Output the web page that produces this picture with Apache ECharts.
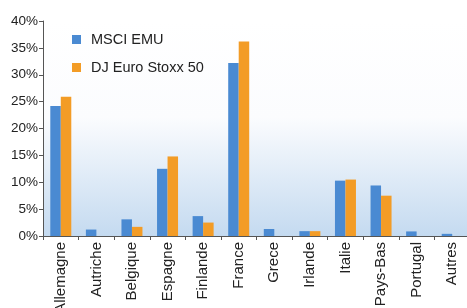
<!DOCTYPE html>
<html>
<head>
<meta charset="utf-8">
<script src="https://cdn.jsdelivr.net/npm/echarts@6/dist/echarts.min.js"></script>
<style>
  html, body { margin: 0; padding: 0; background: #fff; }
  #chart { width: 467px; height: 308px; }
</style>
</head>
<body>
<div id="chart"></div>
<script>
// pays
const categories = ['Allemagne', 'Autriche', 'Belgique', 'Espagne', 'Finlande', 'France', 'Grece', 'Irlande', 'Italie', 'Pays-Bas', 'Portugal', 'Autres']
// poids en %
const msciEmu = [24.2, 1.2, 3.1, 12.5, 3.7, 32.2, 1.3, 0.9, 10.3, 9.4, 0.85, 0.4]
const euroStoxx = [25.9, 0, 1.7, 14.8, 2.5, 36.2, 0, 0.9, 10.5, 7.5, 0, 0]
const yTicks = [0, 40, 5]

const myChart = echarts.init(document.getElementById('chart'))
const option = {
  animation: false,
  textStyle: { fontFamily: 'Liberation Sans, Arial, sans-serif' },
  legend: {
    orient: 'vertical',
    left: 67,
    top: 27,
    itemWidth: 9,
    itemHeight: 9,
    itemGap: 13,
    icon: 'rect',
    textStyle: { fontSize: 14.5, color: '#222', padding: [0, 0, 0, 5] },
    data: ['MSCI EMU', 'DJ Euro Stoxx 50']
  },
  grid: {
    left: 43,
    top: 21,
    right: -3,
    bottom: 72,
    outerBoundsMode: 'none',
    containLabel: false,
    show: true,
    borderWidth: 0,
    backgroundColor: {
      type: 'linear',
      x: 0, y: 0, x2: 0, y2: 1,
      colorStops: [
        { offset: 0, color: '#ffffff' },
        { offset: 0.45, color: '#fbfcfe' },
        { offset: 1, color: '#c4daf0' }
      ]
    }
  },
  xAxis: {
    type: 'category',
    data: categories,
    axisLine: { lineStyle: { color: '#555', width: 1 } },
    axisTick: { show: true, length: 4, lineStyle: { color: '#555' } },
    axisLabel: { rotate: 90, fontSize: 15, color: '#222', margin: 6 }
  },
  yAxis: {
    type: 'value',
    min: yTicks[0],
    max: yTicks[1],
    interval: yTicks[2],
    axisLine: { show: true, lineStyle: { color: '#555', width: 1 } },
    axisTick: { show: true, length: 4, lineStyle: { color: '#555' } },
    splitLine: { show: false },
    axisLabel: { formatter: '{value}%', fontSize: 13.5, color: '#222', margin: 5 }
  },
  series: [
    {
      name: 'MSCI EMU',
      type: 'bar',
      data: msciEmu,
      barWidth: 10.5,
      barGap: '0%',
      itemStyle: { color: '#4a8ad2' }
    },
    {
      name: 'DJ Euro Stoxx 50',
      type: 'bar',
      data: euroStoxx,
      barWidth: 10.5,
      barGap: '0%',
      itemStyle: { color: '#f39c26' }
    }
  ]
}
myChart.setOption(option)
</script>
</body>
</html>
